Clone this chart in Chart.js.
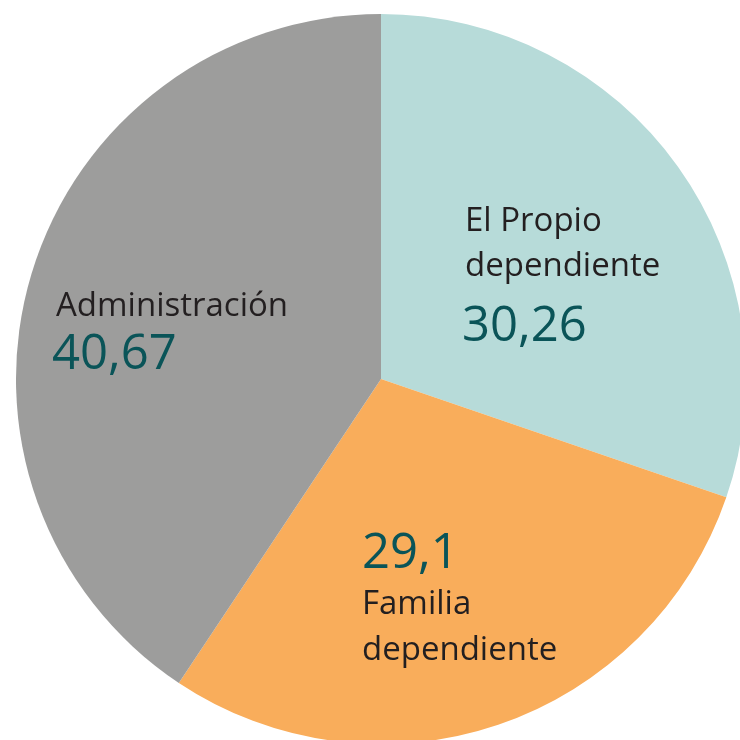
<!DOCTYPE html>
<html>
<head>
<meta charset="utf-8">
<script src="https://cdn.jsdelivr.net/npm/chart.js@4"></script>
<style>
  html, body { margin: 0; padding: 0; background: #fff; overflow: hidden; }
  #wrap { width: 760px; height: 760px; }
</style>
</head>
<body>
<div id="wrap"><canvas id="myChart" width="760" height="760"></canvas></div>
<script>
var categories = [['El Propio', 'dependiente'], ['Familia', 'dependiente'], ['Administración']];
var values = [30.26, 29.1, 40.67];
var valueLabels = ['30,26', '29,1', '40,67'];
var colors = ['#b7dbd9', '#f9ad5b', '#9d9d9c'];

// where each label block sits, relative to the pie centre
var labelLayout = [
    { dx: 84, nameY: [-148, -103], numX: 81, numY: -38 },
    { dx: -19, nameY: [235, 281], numX: -19, numY: 189 },
    { dx: -325, nameY: [-63], numX: -329, numY: -10 }
];

var textLabels = {
    id: 'textLabels',
    afterDatasetsDraw: function (chart) {
        var ctx = chart.ctx;
        var arcs = chart.getDatasetMeta(0).data;
        ctx.save();
        ctx.textAlign = 'left';
        ctx.textBaseline = 'alphabetic';
        arcs.forEach(function (arc, i) {
            var lay = labelLayout[i];
            ctx.fillStyle = '#231f20';
            ctx.font = '33px "Open Sans"';
            categories[i].forEach(function (line, j) {
                ctx.fillText(line, arc.x + lay.dx, arc.y + lay.nameY[j]);
            });
            ctx.fillStyle = '#0a5458';
            ctx.font = '49px "Open Sans"';
            ctx.fillText(valueLabels[i], arc.x + lay.numX, arc.y + lay.numY);
        });
        ctx.restore();
    }
};

var ctx = document.getElementById('myChart').getContext('2d');
var myChart = new Chart(ctx, {
    type: 'pie',
    data: {
        labels: categories.map(function (c) { return c.join(' '); }),
        datasets: [{
            data: values,
            backgroundColor: colors,
            borderWidth: 0
        }]
    },
    options: {
        responsive: false,
        animation: false,
        layout: { padding: { left: 16, top: 14, right: 14, bottom: 16 } },
        plugins: {
            legend: { display: false },
            tooltip: { enabled: false }
        }
    },
    plugins: [textLabels]
});
</script>
</body>
</html>
